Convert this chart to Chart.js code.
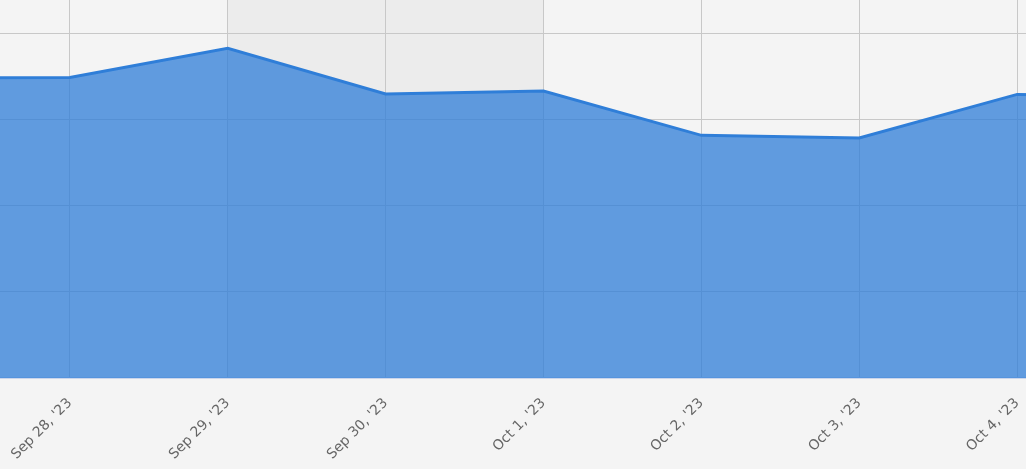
<!DOCTYPE html>
<html>
<head>
<meta charset="utf-8">
<script src="https://cdn.jsdelivr.net/npm/chart.js@4.4.0/dist/chart.umd.min.js"></script>
<style>
    html, body { margin: 0; padding: 0; background: #f4f4f4; overflow: hidden; }
    #wrap { position: relative; width: 1026px; height: 469px; overflow: hidden; }
    /* the chart is bigger than the window; the outer days are cut off like in the source */
    #chart { position: absolute; left: -88px; top: -53px; }
</style>
</head>
<body>
<div id="wrap"><canvas id="chart" width="1263" height="522"></canvas></div>
<script>
// Data
const dates = ["Sep 27, '23", "Sep 28, '23", "Sep 29, '23", "Sep 30, '23", "Oct 1, '23",
               "Oct 2, '23", "Oct 3, '23", "Oct 4, '23", "Oct 5, '23"];
const values = [69.6, 69.7, 76.5, 65.9, 66.6, 56.3, 55.7, 65.8, 65.4];
const yTicks = [0, 20, 40, 60, 80, 100];
const bandFrom = "Sep 29, '23";
const bandTo = "Oct 1, '23";

// Shaded background band, drawn under the grid
const bandPlugin = {
    id: 'band',
    beforeDraw(chart) {
        const { ctx, chartArea, scales } = chart;
        const x0 = scales.x.getPixelForValue(dates.indexOf(bandFrom));
        const x1 = scales.x.getPixelForValue(dates.indexOf(bandTo));
        ctx.save();
        ctx.fillStyle = '#ececec';
        ctx.fillRect(x0, chartArea.top, x1 - x0, chartArea.bottom - chartArea.top);
        ctx.restore();
    }
};

const initChart = () => {
    const ctx = document.getElementById('chart').getContext('2d');
    return new Chart(ctx, {
        type: 'line',
        data: {
            labels: dates,
            datasets: [{
                data: values,
                borderColor: '#2f7ed8',
                backgroundColor: 'rgba(47, 126, 216, 0.75)',
                borderWidth: 3,
                pointRadius: 0,
                tension: 0,
                fill: 'origin'
            }]
        },
        options: {
            responsive: false,
            animation: false,
            devicePixelRatio: 1,
            layout: { padding: 0 },
            plugins: {
                legend: { display: false },
                tooltip: { enabled: false }
            },
            scales: {
                x: {
                    offset: false,
                    grid: { color: '#c8c8c8', lineWidth: 1, drawTicks: false },
                    border: { color: '#ccd6eb', width: 2 },
                    ticks: {
                        autoSkip: false,
                        minRotation: 45,
                        maxRotation: 45,
                        padding: 17,
                        color: '#666666',
                        font: { family: 'DejaVu Sans', size: 14 }
                    },
                    afterFit(scale) {
                        scale.height = 91;
                        scale.paddingLeft = 0;
                        scale.paddingRight = 0;
                    }
                },
                y: {
                    min: yTicks[0],
                    max: yTicks[yTicks.length - 1],
                    grid: { color: '#c8c8c8', lineWidth: 1, drawTicks: false },
                    border: { display: false },
                    ticks: { display: false, stepSize: yTicks[1] - yTicks[0] },
                    afterFit(scale) {
                        scale.width = 0;
                        scale.paddingTop = 0;
                        scale.paddingBottom = 0;
                    }
                }
            }
        },
        plugins: [bandPlugin]
    });
};

document.addEventListener('DOMContentLoaded', () => {
    initChart();
});
</script>
</body>
</html>
